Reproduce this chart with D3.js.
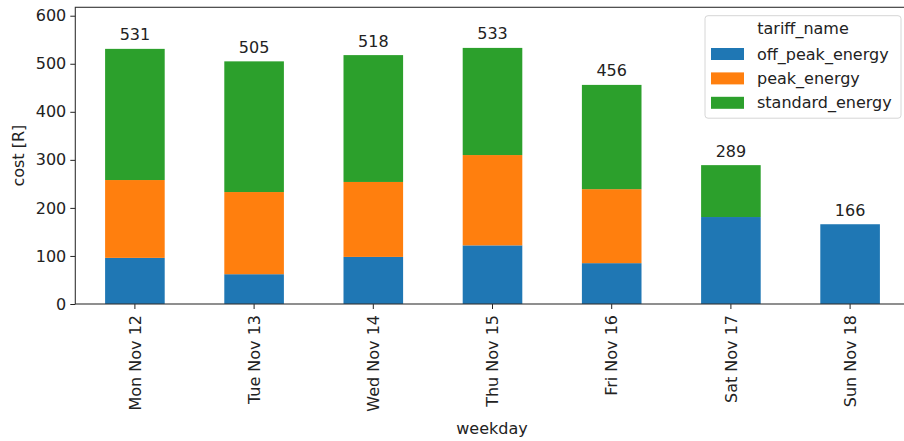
<!DOCTYPE html>
<html>
<head>
<meta charset="utf-8">
<script src="https://cdn.jsdelivr.net/npm/d3@7"></script>
<style>
    body { margin: 0; background: #fff; }
    svg { display: block; font-family: 'DejaVu Sans', sans-serif; }
</style>
</head>
<body>
<script>
const [W, H] = [904, 441];
const [LEFT, RIGHT, TOP, BOTTOM] = [75.3, 909.7, 7.3, 304];

// data
const days = ['Mon Nov 12', 'Tue Nov 13', 'Wed Nov 14', 'Thu Nov 15', 'Fri Nov 16', 'Sat Nov 17', 'Sun Nov 18'];
const tariffs = ['off_peak_energy', 'peak_energy', 'standard_energy'];
const offPeak = [96, 62, 98, 122, 85, 181, 166];
const peak = [162, 171, 156, 188, 154, 0, 0];
const standard = [273, 272, 264, 223, 217, 108, 0];
const yTicks = [0, 100, 200, 300, 400, 500, 600];

function main() {
    const rows = days.map((d, i) => ({
        day: d,
        off_peak_energy: offPeak[i],
        peak_energy: peak[i],
        standard_energy: standard[i]
    }));

    const svg = d3.select('body').append('svg')
        .attr('width', W).attr('height', H);

    const xScale = d3.scaleBand()
        .domain(days)
        .range([LEFT, RIGHT])
        .paddingInner(0.5)
        .paddingOuter(0.25);

    const yScale = d3.scaleLinear()
        .domain([0, 617.5])
        .range([BOTTOM, TOP]);

    const color = d3.scaleOrdinal()
        .domain(tariffs)
        .range(['#1f77b4', '#ff7f0e', '#2ca02c']);

    // stacked bars
    const series = d3.stack().keys(tariffs)(rows);

    svg.append('g').selectAll('g')
        .data(series).enter()
        .append('g')
        .attr('fill', d => color(d.key))
        .selectAll('rect')
        .data(d => d).enter()
        .append('rect')
        .attr('x', d => xScale(d.data.day))
        .attr('width', xScale.bandwidth())
        .attr('y', d => yScale(d[1]))
        .attr('height', d => yScale(d[0]) - yScale(d[1]));

    // totals above bars
    svg.append('g').selectAll('text')
        .data(rows).enter()
        .append('text')
        .attr('x', d => xScale(d.day) + xScale.bandwidth() / 2)
        .attr('y', d => yScale(d.off_peak_energy + d.peak_energy + d.standard_energy) - 8.5)
        .style('text-anchor', 'middle')
        .style('font-size', '16px')
        .attr('fill', '#222')
        .text(d => d.off_peak_energy + d.peak_energy + d.standard_energy);

    // axes
    const xAxis = d3.axisBottom(xScale).tickSize(5).tickPadding(4);
    const yAxis = d3.axisLeft(yScale).tickValues(yTicks).tickSize(5).tickPadding(4);

    const gx = svg.append('g')
        .attr('transform', 'translate(0,' + BOTTOM + ')')
        .call(xAxis);
    gx.selectAll('text')
        .attr('transform', 'rotate(-90)')
        .attr('x', -11)
        .attr('y', 0)
        .attr('dy', '0.35em')
        .style('text-anchor', 'end');

    const gy = svg.append('g')
        .attr('transform', 'translate(' + LEFT + ',0)')
        .call(yAxis);

    [gx, gy].forEach(g => {
        g.select('.domain').remove();
        g.selectAll('text').style('font-size', '16px').attr('fill', '#222').style('font-family', 'DejaVu Sans');
        g.selectAll('line').attr('stroke', '#222');
    });

    // frame (right side falls outside the picture)
    svg.append('rect')
        .attr('x', LEFT).attr('y', TOP)
        .attr('width', RIGHT - LEFT).attr('height', BOTTOM - TOP)
        .attr('fill', 'none')
        .attr('stroke', '#333')
        .attr('stroke-width', 1.1);

    // axis titles
    svg.append('text')
        .attr('x', (LEFT + 909.7) / 2 - 0.5)
        .attr('y', 434)
        .style('text-anchor', 'middle')
        .style('font-size', '16px')
        .attr('fill', '#222')
        .text('weekday');

    svg.append('text')
        .attr('transform', 'rotate(-90)')
        .attr('x', -(TOP + BOTTOM) / 2)
        .attr('y', 24)
        .style('text-anchor', 'middle')
        .style('font-size', '16px')
        .attr('fill', '#222')
        .text('cost [R]');

    // legend
    const legend = svg.append('g').attr('transform', 'translate(705,15.7)');

    legend.append('rect')
        .attr('width', 196).attr('height', 102.5)
        .attr('rx', 3)
        .attr('fill', '#fff').attr('fill-opacity', 0.8)
        .attr('stroke', '#d6d6d6');

    legend.append('text')
        .attr('x', 98).attr('y', 18.5)
        .style('text-anchor', 'middle')
        .style('font-size', '16px')
        .attr('fill', '#222')
        .text('tariff_name');

    const item = legend.selectAll('.legend-item')
        .data(tariffs).enter()
        .append('g')
        .attr('class', 'legend-item')
        .attr('transform', (d, i) => 'translate(0,' + (32.3 + i * 24.4) + ')');

    item.append('rect')
        .attr('x', 6).attr('width', 33).attr('height', 12)
        .attr('fill', color);

    item.append('text')
        .attr('x', 52).attr('y', 11.5)
        .style('font-size', '16px')
        .attr('fill', '#222')
        .text(d => d);
}

document.addEventListener('DOMContentLoaded', main);
</script>
</body>
</html>
